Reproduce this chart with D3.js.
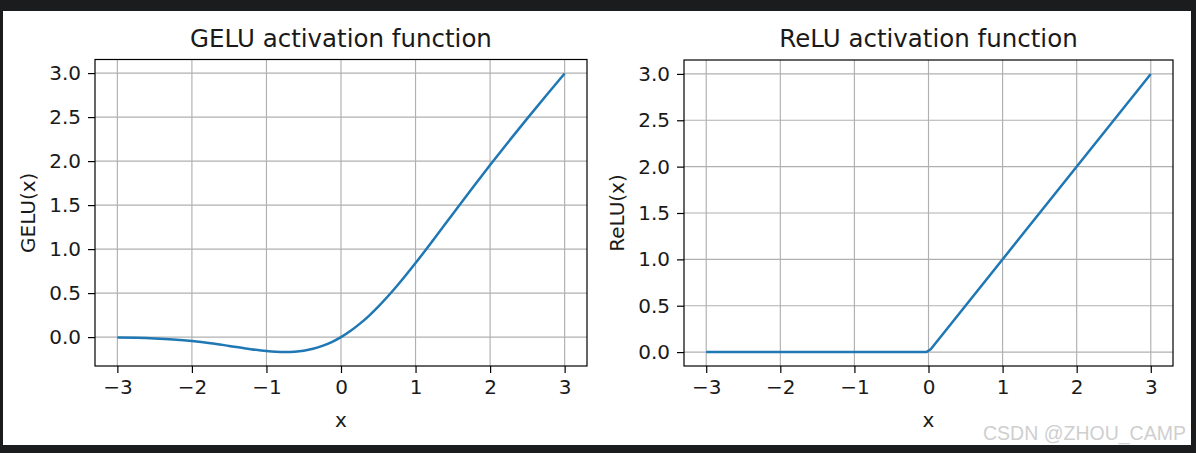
<!DOCTYPE html>
<html>
<head>
<meta charset="utf-8">
<script src="https://cdn.jsdelivr.net/npm/d3@7"></script>
<style>
  html, body { margin: 0; padding: 0; background: #1b1c1e; }
  svg { display: block; }
</style>
</head>
<body>
<svg id="chart" width="1196" height="453"></svg>
<script>
// ---- Data ----
const geluX = [-3, -2.75, -2.5, -2.25, -2, -1.75, -1.5, -1.25, -1, -0.875, -0.75, -0.625, -0.5, -0.375, -0.25, -0.125, 0, 0.125, 0.25, 0.375, 0.5, 0.75, 1, 1.25, 1.5, 1.75, 2, 2.25, 2.5, 2.75, 3];
const geluY = [-0.004, -0.008, -0.016, -0.028, -0.045, -0.069, -0.100, -0.132, -0.159, -0.167, -0.170, -0.166, -0.154, -0.132, -0.100, -0.056, 0.000, 0.069, 0.150, 0.242, 0.346, 0.580, 0.841, 1.118, 1.400, 1.680, 1.955, 2.223, 2.485, 2.743, 2.996];
const reluX = [-3, -0.03, 0.03, 3];
const reluY = [0, 0, 0.03, 3];
const xTicks = [-3, -2, -1, 0, 1, 2, 3];
const yTicks = [0.0, 0.5, 1.0, 1.5, 2.0, 2.5, 3.0];
const titles = ["GELU activation function", "ReLU activation function"];
const yLabels = ["GELU(x)", "ReLU(x)"];
const xLabel = "x";
const watermark = "CSDN @ZHOU_CAMP";

// ---- Layout ----
const svg = d3.select("#chart");
const FONT = "DejaVu Sans, sans-serif";
svg.append("rect").attr("x", 3).attr("y", 11).attr("width", 1188).attr("height", 434).attr("fill", "#ffffff");

const panels = [
  { xs: geluX, ys: geluY, left: 95, right: 587, top: 59.5, bottom: 366 },
  { xs: reluX, ys: reluY, left: 684, right: 1173, top: 60, bottom: 366 }
];

function padded(ext, frac) {
  const d = ext[1] - ext[0];
  return [ext[0] - d * frac, ext[1] + d * frac];
}

panels.forEach((p, i) => {
  const xScale = d3.scaleLinear().domain(padded(d3.extent(p.xs), 0.05)).range([p.left, p.right]);
  const yScale = d3.scaleLinear().domain(padded(d3.extent(p.ys), 0.05)).range([p.bottom, p.top]);
  const g = svg.append("g");

  // grid
  g.append("g").selectAll("line").data(xTicks).join("line")
    .attr("x1", d => xScale(d)).attr("x2", d => xScale(d))
    .attr("y1", p.top).attr("y2", p.bottom)
    .attr("stroke", "#b0b0b0").attr("stroke-width", 1.15);
  g.append("g").selectAll("line").data(yTicks).join("line")
    .attr("y1", d => yScale(d)).attr("y2", d => yScale(d))
    .attr("x1", p.left).attr("x2", p.right)
    .attr("stroke", "#b0b0b0").attr("stroke-width", 1.15);

  // line
  const pts = p.xs.map((x, k) => [x, p.ys[k]]);
  g.append("path").datum(pts)
    .attr("fill", "none").attr("stroke", "#1f77b4").attr("stroke-width", 2.5)
    .attr("stroke-linejoin", "round").attr("stroke-linecap", "butt")
    .attr("d", d3.line().x(d => xScale(d[0])).y(d => yScale(d[1])).curve(i === 0 ? d3.curveMonotoneX : d3.curveLinear));

  // axes
  const ax = g.append("g").attr("transform", `translate(0,${p.bottom})`)
    .call(d3.axisBottom(xScale).tickValues(xTicks).tickFormat(d3.format("d")).tickSize(7).tickPadding(7).tickSizeOuter(0));
  const ay = g.append("g").attr("transform", `translate(${p.left},0)`)
    .call(d3.axisLeft(yScale).tickValues(yTicks).tickFormat(d3.format(".1f")).tickSize(7).tickPadding(7).tickSizeOuter(0));
  [ax, ay].forEach(a => {
    a.attr("font-family", FONT).attr("font-size", 20);
    a.selectAll("text").attr("fill", "#1a1a1a");
    a.selectAll("line").attr("stroke", "#000").attr("stroke-width", 1.2);
    a.select(".domain").remove();
  });

  // spines
  g.append("rect").attr("x", p.left).attr("y", p.top)
    .attr("width", p.right - p.left).attr("height", p.bottom - p.top)
    .attr("fill", "none").attr("stroke", "#000").attr("stroke-width", 1.2);

  // title
  g.append("text").attr("x", (p.left + p.right) / 2).attr("y", 47)
    .attr("text-anchor", "middle").attr("font-family", FONT).attr("font-size", 24.5)
    .attr("fill", "#1a1a1a").text(titles[i]);
  // x label
  g.append("text").attr("x", (p.left + p.right) / 2).attr("y", 427)
    .attr("text-anchor", "middle").attr("font-family", FONT).attr("font-size", 20)
    .attr("fill", "#1a1a1a").text(xLabel);
  // y label
  g.append("text").attr("transform", `translate(${p.left - 60},${(p.top + p.bottom) / 2}) rotate(-90)`)
    .attr("text-anchor", "middle").attr("font-family", FONT).attr("font-size", 20)
    .attr("fill", "#1a1a1a").text(yLabels[i]);
});

// watermark
svg.append("text")
  .attr("x", 983).attr("y", 440).attr("font-family", "Liberation Sans, Arial, sans-serif")
  .attr("font-size", 19.5).attr("fill", "#cfcfcf").text(watermark);
</script>
</body>
</html>
